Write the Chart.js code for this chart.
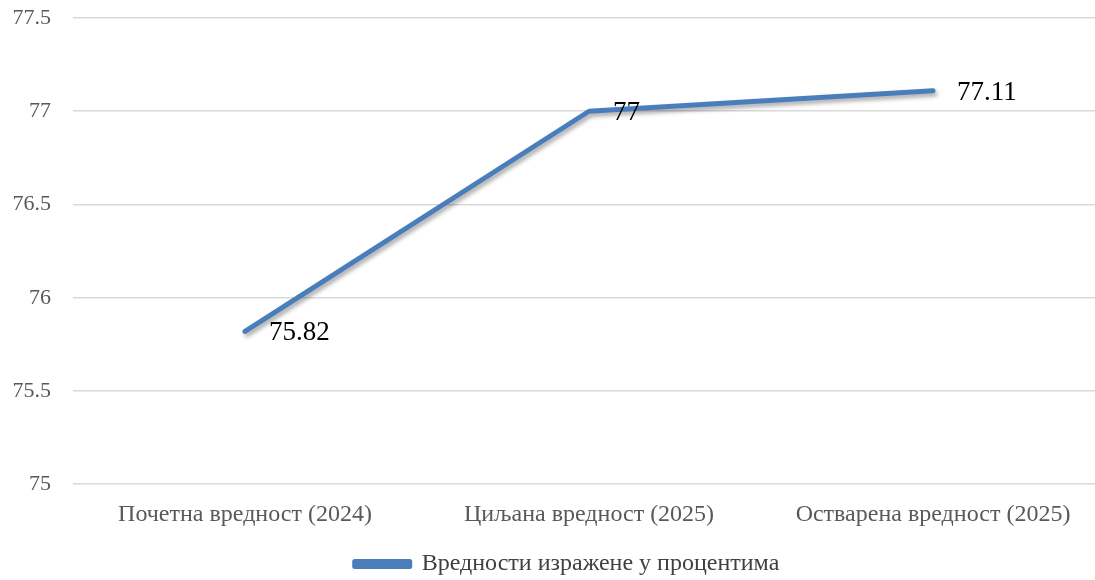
<!DOCTYPE html>
<html>
<head>
<meta charset="utf-8">
<script src="https://cdn.jsdelivr.net/npm/chart.js@4"></script>
<style>
  html, body { margin: 0; padding: 0; background: #fff; overflow: hidden; }
  #wrap { width: 1134px; height: 580px; }
</style>
</head>
<body>
<div id="wrap"><canvas id="chart" width="1134" height="580"></canvas></div>
<script>
// chart data
const categories = ['Почетна вредност (2024)', 'Циљана вредност (2025)', 'Остварена вредност (2025)']
const values = [75.82, 77, 77.11]
const seriesName = 'Вредности изражене у процентима'
const yTicks = [75, 75.5, 76, 76.5, 77, 77.5]

const blue = '#4a7ebb'
const serif = '"Liberation Serif", "Times New Roman", serif'

// shadow under the line, like the office chart
const lineShadow = {
    id: 'lineShadow',
    beforeDatasetDraw(chart) {
        const ctx = chart.ctx
        ctx.save()
        ctx.shadowColor = 'rgba(0,0,0,0.35)'
        ctx.shadowBlur = 4
        ctx.shadowOffsetX = 2
        ctx.shadowOffsetY = 3
    },
    afterDatasetDraw(chart) {
        chart.ctx.restore()
    }
}

// value labels to the right of each point
const valueLabels = {
    id: 'valueLabels',
    afterDatasetsDraw(chart) {
        const ctx = chart.ctx
        const meta = chart.getDatasetMeta(0)
        ctx.save()
        ctx.font = '27px ' + serif
        ctx.fillStyle = '#000'
        ctx.textAlign = 'left'
        ctx.textBaseline = 'middle'
        meta.data.forEach((pt, i) => {
            ctx.fillText(String(values[i]), pt.x + 24, pt.y + 2)
        })
        ctx.restore()
    }
}

var context = document.getElementById('chart').getContext('2d')
new Chart(context, {
    type: 'line',
    data: {
        labels: categories,
        datasets: [{
            label: seriesName,
            data: values,
            borderColor: blue,
            backgroundColor: blue,
            borderWidth: 5,
            borderCapStyle: 'round',
            borderJoinStyle: 'round',
            pointRadius: 0,
            tension: 0
        }]
    },
    options: {
        responsive: false,
        animation: false,
        layout: { padding: { left: 0, right: 0, top: 18, bottom: -6 } },
        plugins: {
            tooltip: { enabled: false },
            legend: {
                position: 'bottom',
                labels: {
                    boxWidth: 55,
                    boxHeight: 5,
                    color: '#404040',
                    font: { family: serif, size: 24 },
                    padding: 15
                }
            }
        },
        scales: {
            x: {
                offset: true,
                grid: { display: false },
                border: { display: false },
                ticks: {
                    color: '#595959',
                    font: { family: serif, size: 24 },
                    padding: 8,
                    maxRotation: 0
                }
            },
            y: {
                min: 75,
                max: 77.5,
                afterBuildTicks: (scale) => { scale.ticks = yTicks.map(v => ({ value: v })) },
                afterFit: (scale) => { scale.width = 73 },
                grid: { color: '#d9d9d9', lineWidth: 1.5, drawTicks: true, tickLength: 22, tickColor: 'rgba(0,0,0,0)' },
                border: { display: false },
                ticks: {
                    color: '#595959',
                    font: { family: serif, size: 22 },
                    padding: 0,
                    callback: (v) => String(v)
                }
            },
            // empty axis on the right, only to keep room after the plot
            yRight: {
                position: 'right',
                afterFit: (scale) => { scale.width = 29 },
                grid: { display: false },
                border: { display: false },
                ticks: { display: false }
            }
        }
    },
    plugins: [lineShadow, valueLabels]
})
</script>
</body>
</html>
